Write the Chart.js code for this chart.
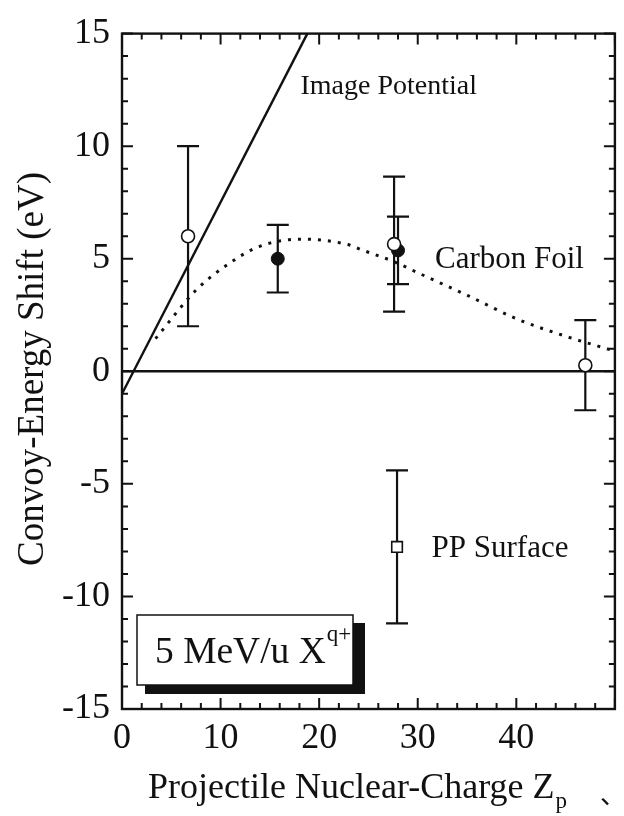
<!DOCTYPE html>
<html>
<head>
<meta charset="utf-8">
<script src="https://cdn.jsdelivr.net/npm/chart.js@4.4.1/dist/chart.umd.min.js"></script>
<style>
html, body { margin: 0; padding: 0; background: #fff; }
canvas { display: block; }
</style>
</head>
<body>
<canvas id="convoyChart" width="624" height="816"></canvas>
<script>
// values
const openZ = [6.7, 27.6, 47.0];
const openShift = [6.0, 5.65, 0.27];
const openErr = [4.0, 3.0, 2.0];

const filledZ = [15.8, 28.0];
const filledShift = [5.0, 5.37];
const filledErr = [1.5, 1.5];

const surfaceZ = [27.9];
const surfaceShift = [-7.8];
const surfaceErr = [3.4];

const imageZ = [0, 18.8];
const imageShift = [-1, 15];

const foilZ = [3.4, 7.5, 10.9, 13.9, 18.2, 22.9, 24.3, 27.7, 30.0, 35.1, 40.2, 45.2, 49.6];
const foilShift = [1.45, 3.6, 4.8, 5.54, 5.87, 5.63, 5.4, 4.85, 4.38, 3.36, 2.3, 1.53, 0.95];

const zeroZ = [0, 50];
const zeroShift = [0, 0];

const xTicks = [0, 10, 20, 30, 40];
const yTicks = [-15, -10, -5, 0, 5, 10, 15];

const SERIF = '"Liberation Serif", "Times New Roman", serif';

const toPoints = (xs, ys) => xs.map((x, i) => ({ x: x, y: ys[i] }));

const errorBars = {
    id: 'errorBars',
    beforeDatasetsDraw(chart) {
        const ctx = chart.ctx;
        const xs = chart.scales.x, ys = chart.scales.y;
        ctx.save();
        ctx.strokeStyle = '#111';
        ctx.lineWidth = 2.2;
        chart.data.datasets.forEach(ds => {
            if (!ds.errors) return;
            ds.data.forEach((p, i) => {
                const px = xs.getPixelForValue(p.x);
                const top = ys.getPixelForValue(p.y + ds.errors[i]);
                const bot = ys.getPixelForValue(p.y - ds.errors[i]);
                ctx.beginPath();
                ctx.moveTo(px, top); ctx.lineTo(px, bot);
                ctx.moveTo(px - 11, top); ctx.lineTo(px + 11, top);
                ctx.moveTo(px - 11, bot); ctx.lineTo(px + 11, bot);
                ctx.stroke();
            });
        });
        ctx.restore();
    }
};

const frame = {
    id: 'frame',
    afterDraw(chart) {
        const ctx = chart.ctx;
        const a = chart.chartArea;
        const xs = chart.scales.x, ys = chart.scales.y;
        ctx.save();
        ctx.strokeStyle = '#111';
        ctx.lineWidth = 2.4;
        ctx.strokeRect(a.left, a.top, a.right - a.left, a.bottom - a.top);

        // inward ticks on all four sides
        ctx.lineWidth = 2;
        ctx.beginPath();
        for (let v = 0; v <= 50; v += 2) {
            const px = xs.getPixelForValue(v);
            const len = v % 10 === 0 ? 11 : 6;
            ctx.moveTo(px, a.bottom); ctx.lineTo(px, a.bottom - len);
            ctx.moveTo(px, a.top); ctx.lineTo(px, a.top + len);
        }
        for (let v = -15; v <= 15; v += 1) {
            const py = ys.getPixelForValue(v);
            const len = v % 5 === 0 ? 11 : 6;
            ctx.moveTo(a.left, py); ctx.lineTo(a.left + len, py);
            ctx.moveTo(a.right, py); ctx.lineTo(a.right - len, py);
        }
        ctx.stroke();

        // curve labels
        ctx.fillStyle = '#111';
        ctx.textAlign = 'left';
        ctx.textBaseline = 'alphabetic';
        ctx.font = '28px ' + SERIF;
        ctx.fillText('Image Potential', xs.getPixelForValue(18.1), ys.getPixelForValue(12.33));
        ctx.font = '31px ' + SERIF;
        ctx.fillText('Carbon Foil', xs.getPixelForValue(31.75), ys.getPixelForValue(4.6));
        ctx.fillText('PP Surface', xs.getPixelForValue(31.4), ys.getPixelForValue(-8.24));

        // beam box with shadow
        ctx.fillStyle = '#111';
        ctx.fillRect(145, 623, 220, 71);
        ctx.fillStyle = '#fff';
        ctx.fillRect(137, 615, 216, 70);
        ctx.lineWidth = 1.5;
        ctx.strokeRect(137, 615, 216, 70);
        ctx.fillStyle = '#111';
        ctx.font = '37.5px ' + SERIF;
        ctx.fillText('5 MeV/u X', 155, 663);
        const w = ctx.measureText('5 MeV/u X').width;
        ctx.font = '23px ' + SERIF;
        ctx.fillText('q+', 155 + w + 1, 641);

        // axis titles
        ctx.font = '36px ' + SERIF;
        const xt = 'Projectile Nuclear-Charge Z';
        ctx.fillText(xt, 148, 798);
        const xw = ctx.measureText(xt).width;
        ctx.font = '23px ' + SERIF;
        ctx.fillText('p', 148 + xw + 1, 808);
        ctx.font = '26px "Noto Sans CJK JP", sans-serif';
        ctx.fillText('、', 600, 804);

        ctx.translate(43, 369);
        ctx.rotate(-Math.PI / 2);
        ctx.textAlign = 'center';
        ctx.font = '37px ' + SERIF;
        ctx.fillText('Convoy-Energy Shift (eV)', 0, 0);
        ctx.restore();
    }
};

const ctx = document.getElementById('convoyChart').getContext('2d');

const convoyChart = new Chart(ctx, {
    type: 'scatter',
    data: {
        datasets: [
            {
                label: 'open',
                data: toPoints(openZ, openShift),
                errors: openErr,
                pointStyle: 'circle',
                pointRadius: 6.5,
                pointBackgroundColor: '#fff',
                pointBorderColor: '#111',
                pointBorderWidth: 1.6,
                showLine: false
            },
            {
                label: 'filled',
                data: toPoints(filledZ, filledShift),
                errors: filledErr,
                pointStyle: 'circle',
                pointRadius: 6.5,
                pointBackgroundColor: '#111',
                pointBorderColor: '#111',
                pointBorderWidth: 1,
                showLine: false
            },
            {
                label: 'surface',
                data: toPoints(surfaceZ, surfaceShift),
                errors: surfaceErr,
                pointStyle: 'rect',
                pointRadius: 7.5,
                pointBackgroundColor: '#fff',
                pointBorderColor: '#111',
                pointBorderWidth: 1.6,
                showLine: false
            },
            {
                label: 'image',
                data: toPoints(imageZ, imageShift),
                showLine: true,
                borderColor: '#111',
                borderWidth: 2.4,
                pointRadius: 0
            },
            {
                label: 'foil',
                data: toPoints(foilZ, foilShift),
                showLine: true,
                borderColor: '#111',
                borderWidth: 3,
                borderDash: [3, 7],
                cubicInterpolationMode: 'monotone',
                pointRadius: 0
            },
            {
                label: 'zero',
                data: toPoints(zeroZ, zeroShift),
                showLine: true,
                borderColor: '#111',
                borderWidth: 2.4,
                pointRadius: 0
            }
        ]
    },
    options: {
        responsive: false,
        devicePixelRatio: 1,
        animation: false,
        layout: { padding: { top: 23, right: 7, left: 0, bottom: 0 } },
        scales: {
            x: {
                type: 'linear',
                min: 0,
                max: 50,
                afterBuildTicks: scale => { scale.ticks = xTicks.map(v => ({ value: v })); },
                afterFit: scale => { scale.height = 107; },
                grid: { display: false, drawTicks: false },
                border: { display: false },
                ticks: {
                    color: '#111',
                    padding: 8,
                    maxRotation: 0,
                    font: { family: SERIF, size: 36 }
                }
            },
            y: {
                type: 'linear',
                min: -15,
                max: 15,
                afterBuildTicks: scale => { scale.ticks = yTicks.map(v => ({ value: v })); },
                afterFit: scale => { scale.width = 122; },
                grid: { display: false, drawTicks: false },
                border: { display: false },
                ticks: {
                    color: '#111',
                    padding: 12,
                    font: { family: SERIF, size: 36 }
                }
            }
        },
        plugins: {
            legend: { display: false },
            tooltip: { enabled: false }
        }
    },
    plugins: [errorBars, frame]
});
</script>
</body>
</html>
